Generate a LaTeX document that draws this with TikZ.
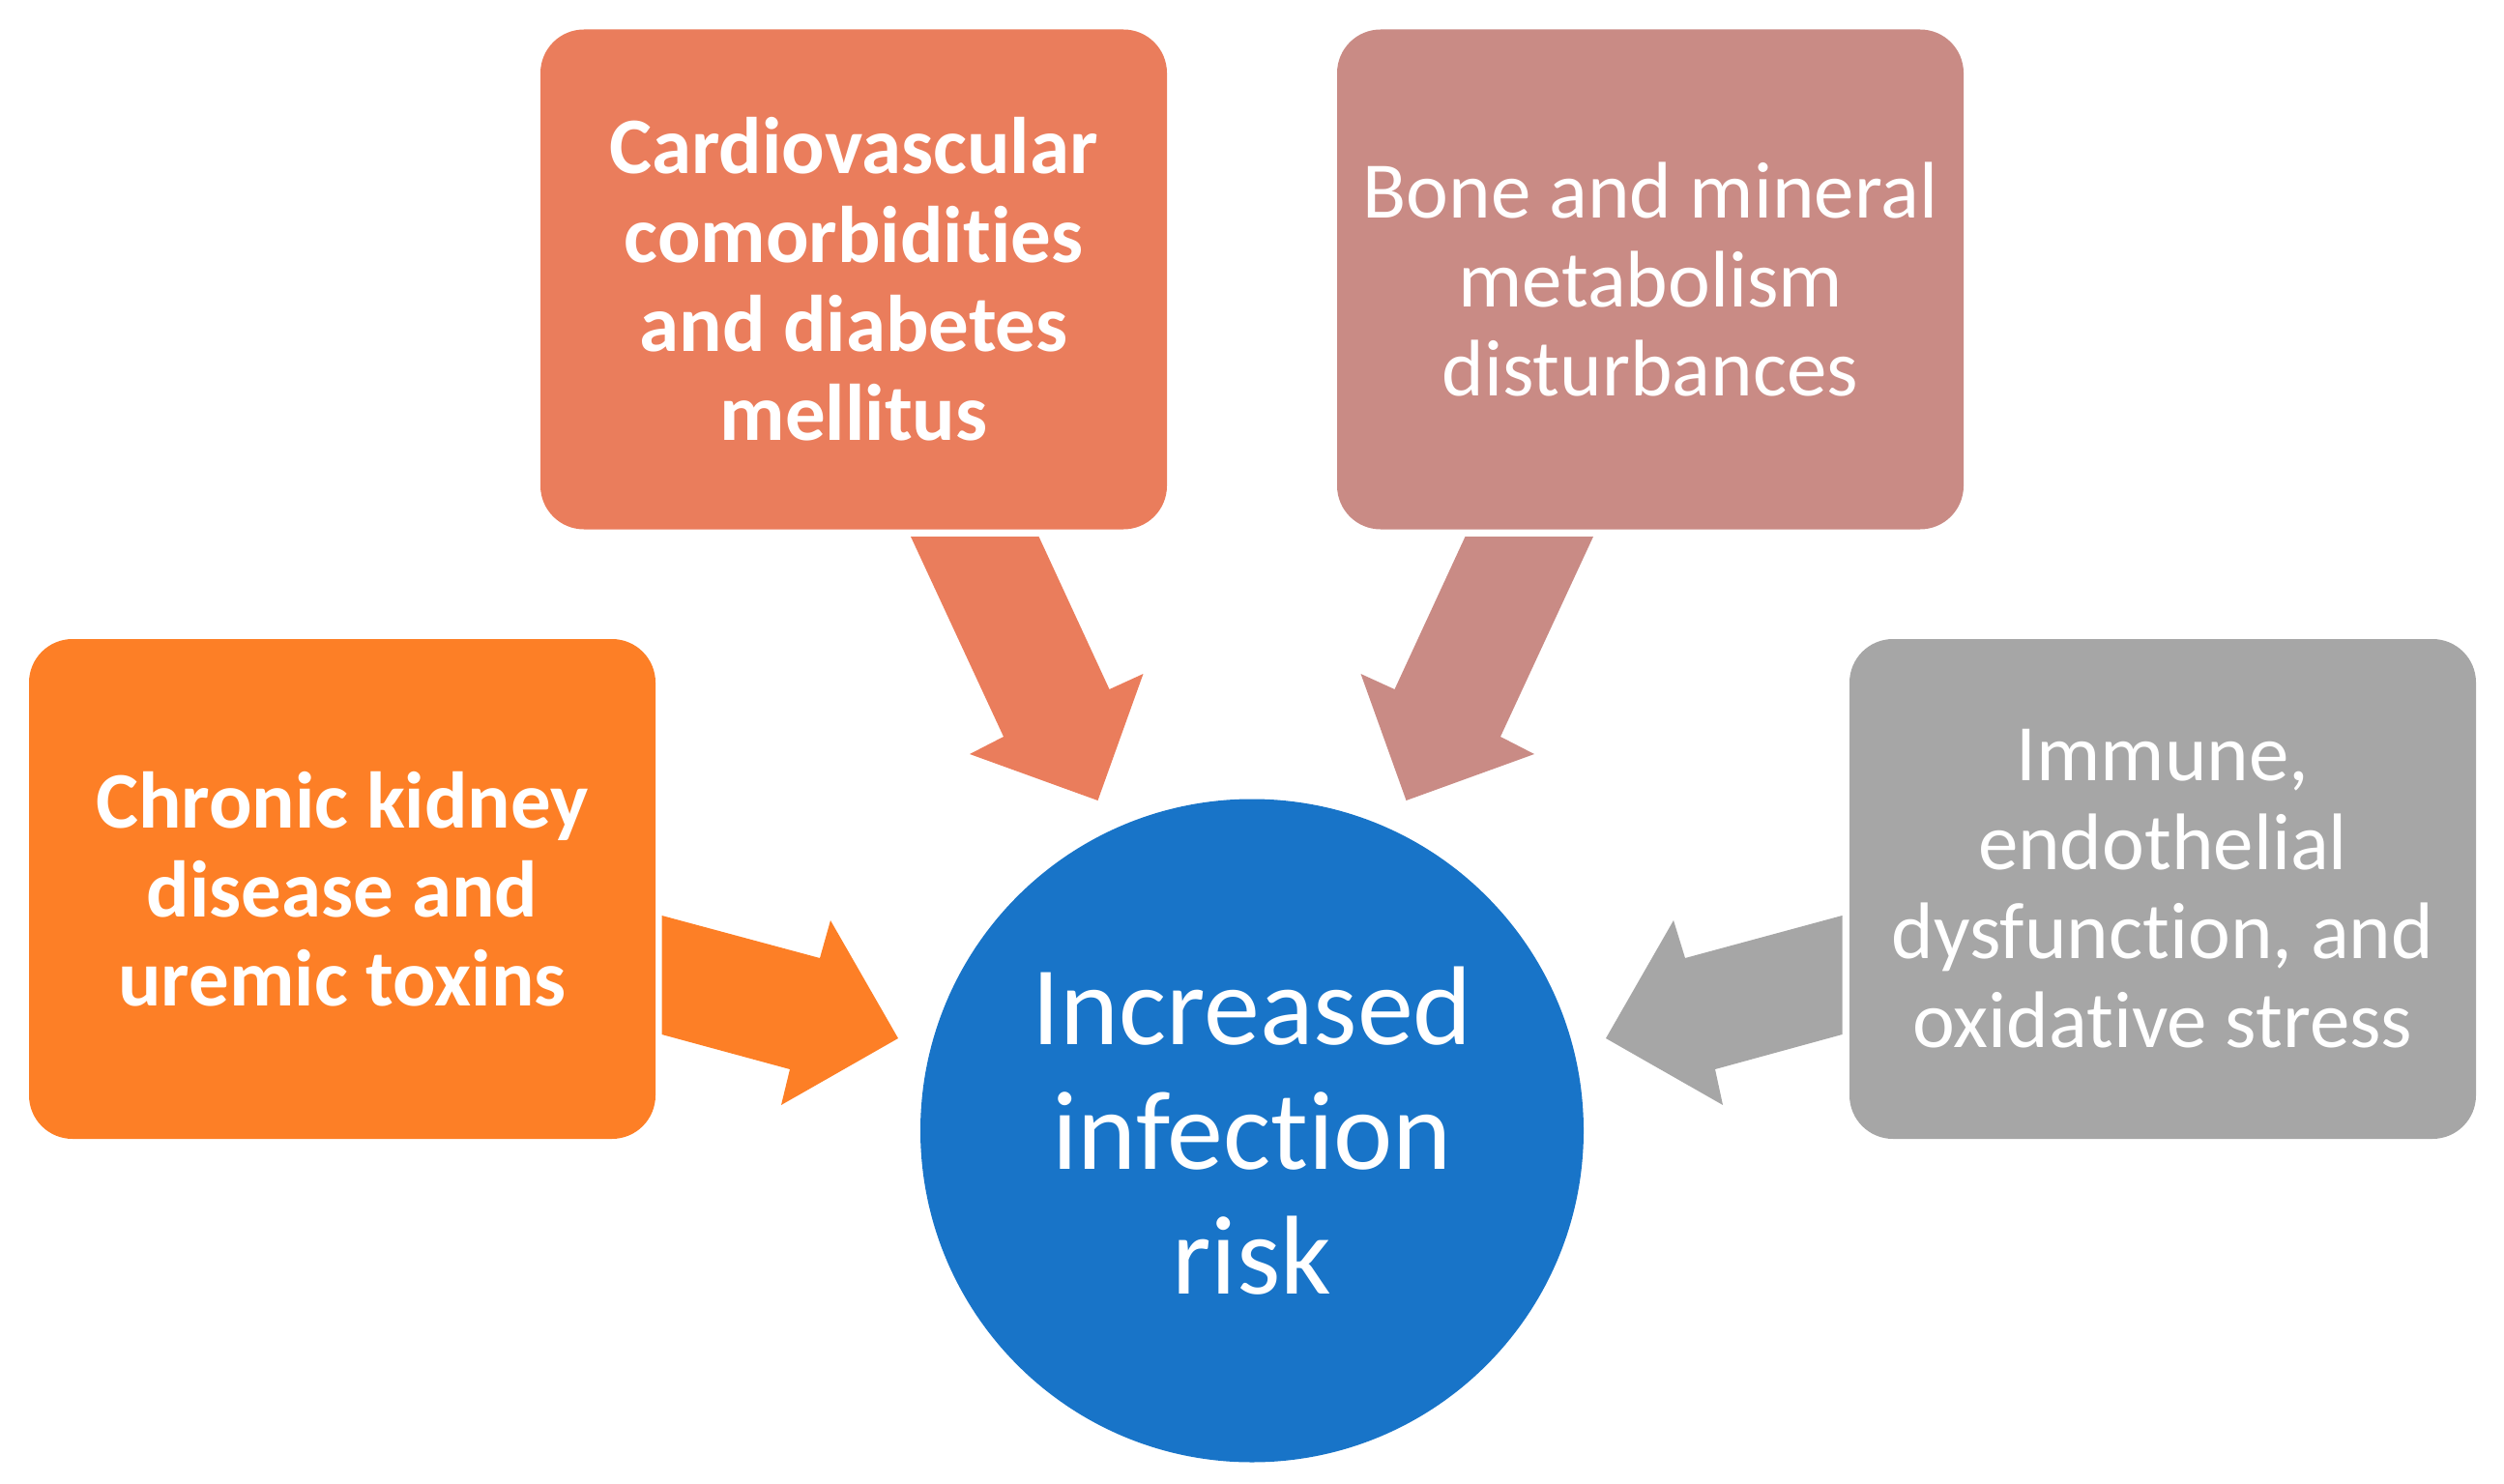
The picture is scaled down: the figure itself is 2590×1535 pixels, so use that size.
\documentclass[tikz,border=0pt]{standalone}
\usepackage{fontspec}
\setmainfont{Carlito}[Ligatures={NoCommon,NoContextual}]
\definecolor{ckdcol}{RGB}{253,127,38}
\definecolor{cvdcol}{RGB}{234,125,92}
\definecolor{bonecol}{RGB}{201,139,133}
\definecolor{immcol}{RGB}{166,166,166}
\definecolor{infcol}{RGB}{24,116,200}
\begin{document}
\begin{tikzpicture}[x=0.5pt,y=-0.5pt,
  box/.style={rectangle, rounded corners=22.5pt, minimum width=324pt, minimum height=258.5pt,
    inner sep=0pt, text=white, align=center, font=\fontsize{41.5}{46}\selectfont},
  boldbox/.style={box, font=\fontsize{41.5}{46}\selectfont\bfseries},
  hub/.style={circle, minimum size=343pt, inner sep=0pt, fill=infcol, text=white, align=center,
    font=\fontsize{58}{64.5}\selectfont},
  blockarrow/.style={draw=none}]
\useasboundingbox (0,0) rectangle (2590,1535);

\node[boldbox, fill=ckdcol] (ckd) at (354,919.5) {Chronic kidney\\disease and\\uremic toxins};
\node[boldbox, fill=cvdcol] (cvd) at (883,289) {Cardiovascular\\comorbidities\\and diabetes\\mellitus};
\node[box, fill=bonecol] (bone) at (1707,289) {Bone and mineral\\metabolism\\disturbances};
\node[box, fill=immcol] (imm) at (2237,919.5) {Immune,\\endothelial\\dysfunction, and\\oxidative stress};
\node[hub] (inf) at (1295,1169.5) {Increased\\infection\\risk};

% block arrows
\fill[blockarrow, ckdcol] (684.5,947) -- (848,991) -- (859,952) -- (929,1074) -- (808,1143) -- (817,1106) -- (684.5,1070) -- cycle;
\fill[blockarrow, immcol] (1905.5,947) -- (1743,991) -- (1731,952) -- (1661,1074) -- (1782,1143) -- (1774,1106) -- (1905.5,1070) -- cycle;
\fill[blockarrow, cvdcol] (942,555) -- (1074.5,555) -- (1147.5,713) -- (1182.5,697) -- (1135.5,828) -- (1003,780) -- (1038,762) -- cycle;
\fill[blockarrow, bonecol] (1648,555) -- (1515.5,555) -- (1442.5,713) -- (1407.5,697) -- (1454.5,828) -- (1587,780) -- (1552,762) -- cycle;
\end{tikzpicture}
\end{document}
